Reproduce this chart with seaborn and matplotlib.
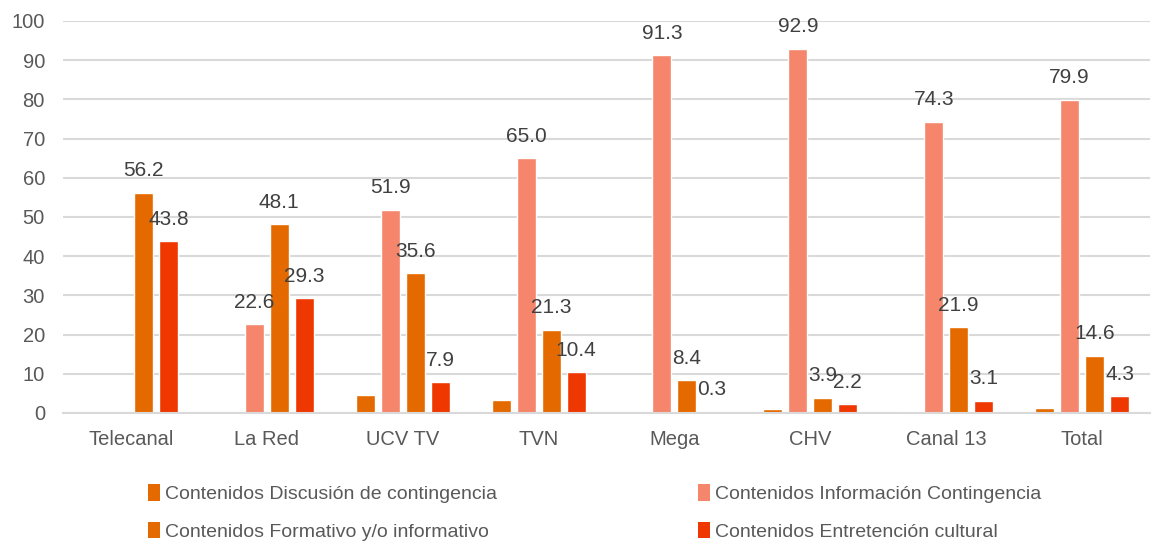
import matplotlib
matplotlib.use("Agg")
import matplotlib.pyplot as plt
from matplotlib import font_manager
from matplotlib.patches import Patch
import seaborn as sns
import pandas as pd

categories = ["Telecanal", "La Red", "UCV TV", "TVN", "Mega", "CHV", "Canal 13", "Total"]
series = ["Contenidos Discusión de contingencia", "Contenidos Información Contingencia",
          "Contenidos Formativo y/o informativo", "Contenidos Entretención cultural"]
discusion = [0.0, 0.0, 4.5, 3.3, 0.0, 0.9, 0.5, 1.2]
informacion = [0.0, 22.6, 51.9, 65.0, 91.3, 92.9, 74.3, 79.9]
formativo = [56.2, 48.1, 35.6, 21.3, 8.4, 3.9, 21.9, 14.6]
entretencion = [43.8, 29.3, 7.9, 10.4, 0.3, 2.2, 3.1, 4.3]
colors = ["#E46A00", "#F5866B", "#E46A00", "#EE3800"]
yticks = list(range(0, 101, 10))

rows = []
for s, vals in zip(series, [discusion, informacion, formativo, entretencion]):
    for c, v in zip(categories, vals):
        rows.append({"canal": c, "serie": s, "valor": v})
df = pd.DataFrame(rows)

sns.set_theme(style="white")
names = {f.name for f in font_manager.fontManager.ttflist}
fam = "Liberation Sans Narrow" if "Liberation Sans Narrow" in names else "Liberation Sans"
plt.rcParams["font.family"] = [fam, "DejaVu Sans"]

W, H = 1153, 545
fig = plt.figure(figsize=(W / 100, H / 100), dpi=100)
ax = fig.add_axes([63 / W, 1 - 413 / H, (1150 - 63) / W, (413 - 21) / H])

sns.barplot(data=df, x="canal", y="valor", hue="serie", order=categories, hue_order=series,
            palette=colors, saturation=1, width=0.735, gap=0.24, legend=False, ax=ax)

ax.set_ylim(0, 100)
ax.set_yticks(yticks)
ax.set_xlabel("")
ax.set_ylabel("")
ax.yaxis.grid(True, color="#D9D9D9", linewidth=1.5)
ax.set_axisbelow(True)
for sp in ["top", "right", "left"]:
    ax.spines[sp].set_visible(False)
ax.spines["bottom"].set_color("#D9D9D9")
ax.spines["bottom"].set_linewidth(1.5)
ax.tick_params(axis="both", length=0, labelsize=14.5, labelcolor="#595959")
ax.tick_params(axis="x", pad=12)
ax.tick_params(axis="y", pad=13)

for i, cont in enumerate(ax.containers):
    if i == 0:
        continue
    labels = [f"{v:.1f}" if v > 0 else "" for v in cont.datavalues]
    ax.bar_label(cont, labels=labels, padding=9, fontsize=15, color="#404040")

def handles(idx):
    return [Patch(facecolor=colors[i], edgecolor="none") for i in idx]

leg_kw = dict(frameon=False, fontsize=14, handlelength=0.6, handleheight=0.95,
              handletextpad=0.25, labelspacing=0.95, labelcolor="#595959", borderaxespad=0, borderpad=0)
l1 = fig.legend(handles([0, 2]), [series[0], series[2]], loc="upper left",
                bbox_to_anchor=(148 / W, 1 - 484 / H), **leg_kw)
l2 = fig.legend(handles([1, 3]), [series[1], series[3]], loc="upper left",
                bbox_to_anchor=(698 / W, 1 - 484 / H), **leg_kw)

fig.savefig("out.png", dpi=100)
